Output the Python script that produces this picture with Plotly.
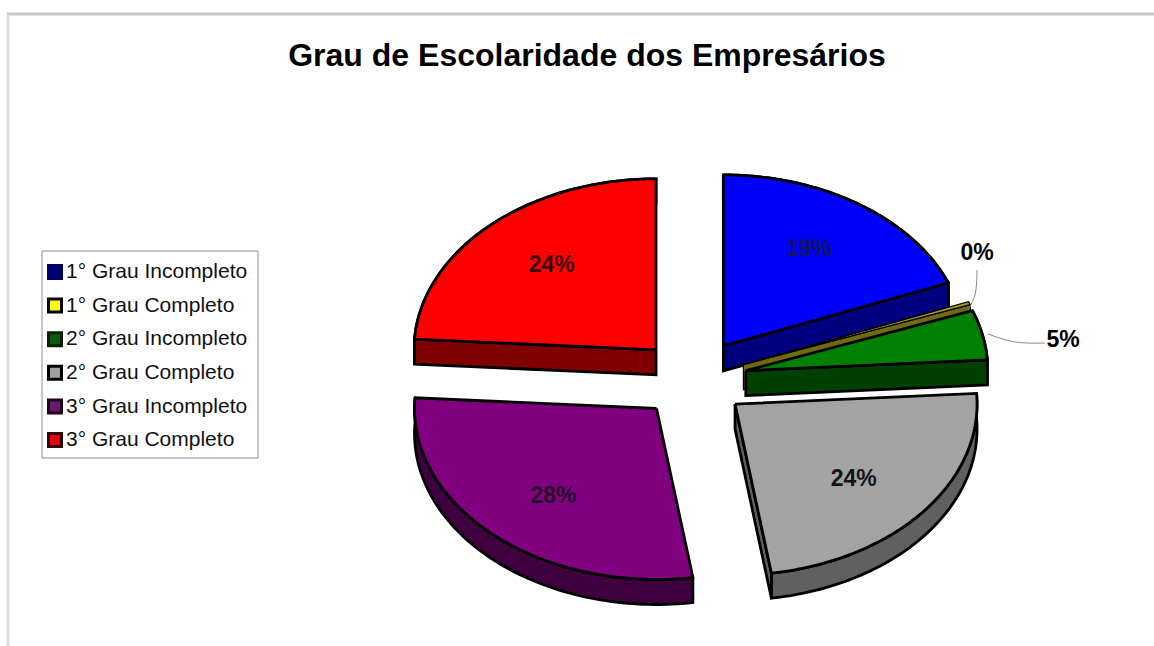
import numpy as np
import plotly.graph_objects as go

# ---- data ----
categories = ["1° Grau Incompleto", "1° Grau Completo", "2° Grau Incompleto",
              "2° Grau Completo", "3° Grau Incompleto", "3° Grau Completo"]
values = [19.0, 0.3, 4.7, 23.6, 28.4, 24.0]
title_text = "Grau de Escolaridade dos Empresários"

# ---- styles ----
top_colors = ["#0000FF", "#A89A20", "#008000", "#A3A3A3", "#800080", "#FF0000"]
wall_colors = ["#000080", "#6E6A10", "#004000", "#606060", "#400040", "#800000"]
legend_fill = ["#000070", "#FFFF00", "#0A5A0A", "#A0A0A0", "#6A1A6A", "#E00010"]
legend_line = ["#000070", "#000000", "#0A200A", "#000000", "#200020", "#300000"]
label_colors = ["#14145A", "#000000", "#000000", "#141414", "#2A0A2A", "#3A0505"]

# ---- geometry of the tilted pie, in plot units ----
CX, CY = 693, 379
RX, RY = 242, 171
EX, EY = 54, 40
DEPTH = 25
OUTLINE = "#000000"

fig = go.Figure()


def arc(t0, t1):
    t = np.linspace(t0, t1, 80)
    return RX * np.sin(t), -RY * np.cos(t)


def poly(xs, ys, fill, name, width=2.8):
    fig.add_trace(go.Scatter(x=xs, y=ys, mode="lines", fill="toself", fillcolor=fill,
                             line=dict(color=OUTLINE, width=width, simplify=False),
                             name=name, showlegend=False, hoverinfo="name"))


total = sum(values)
edges = np.concatenate([[0], np.cumsum(values)]) / total * 2 * np.pi
draw_order = [0, 1, 2, 5, 3, 4]
label_x, label_y, label_text, label_col = [], [], [], []

for i in draw_order:
    t0, t1 = edges[i], edges[i + 1]
    mid = (t0 + t1) / 2
    ax = CX + EX * np.sin(mid)
    ay = CY - EY * np.cos(mid)
    ox, oy = arc(t0, t1)
    ox, oy = ax + ox, ay + oy
    mx, my = ox[40], oy[40]
    lw = 1.2 if i == 1 else 2.8
    # outer wall
    poly(np.r_[ox, ox[::-1], ox[0]], np.r_[oy, oy[::-1] + DEPTH, oy[0]], wall_colors[i], categories[i], lw)
    # radial walls, only where the slice lies above the edge on screen (face turned to the viewer)
    for ex, ey in ((ox[0], oy[0]), (ox[-1], oy[-1])):
        if abs(ex - ax) > 1:
            line_y = ay + (ey - ay) * (mx - ax) / (ex - ax)
            if my < line_y:
                poly([ax, ex, ex, ax, ax], [ay, ey, ey + DEPTH, ay + DEPTH, ay],
                     wall_colors[i], categories[i], lw)
    # top face
    poly(np.r_[ax, ox, ax], np.r_[ay, oy, ay], top_colors[i], categories[i], lw)
    if values[i] >= 10:
        label_x.append(ax + 0.63 * RX * np.sin(mid))
        label_y.append(ay - 0.69 * RY * np.cos(mid) + 2)
        label_text.append(f"{round(values[i])}%")
        label_col.append(label_colors[i])

# inside percentage labels
fig.add_trace(go.Scatter(x=label_x, y=label_y, mode="text", text=label_text, showlegend=False,
                         textfont=dict(family="Liberation Sans", size=23, color=label_col, weight="bold"),
                         hoverinfo="skip"))

# outside labels with leader lines
outside = [(1, 977, 254, [968, 975, 977], [310, 295, 270]),
           (2, 1063, 341, [988, 1015, 1045], [334, 342, 343])]
for i, lx, ly, lxs, lys in outside:
    fig.add_trace(go.Scatter(x=lxs, y=lys, mode="lines", showlegend=False, hoverinfo="skip",
                             line=dict(color="#8A8A8A", width=1, shape="spline")))
    fig.add_trace(go.Scatter(x=[lx], y=[ly], mode="text", text=[f"{round(values[i])}%"], showlegend=False,
                             textfont=dict(family="Liberation Sans", size=23, color="#000000", weight="bold"),
                             hoverinfo="skip"))

# legend
LEG_X, LEG_TX, LEG_Y0, LEG_DY = 55, 66, 272, 33.6
leg_y = [LEG_Y0 + k * LEG_DY for k in range(len(categories))]
fig.add_trace(go.Scatter(
    x=[LEG_X] * len(categories), y=leg_y, mode="markers",
    marker=dict(symbol="square", size=13, color=legend_fill, line=dict(color=legend_line, width=3)),
    showlegend=False, hoverinfo="skip"))
fig.add_trace(go.Scatter(
    x=[LEG_TX] * len(categories), y=[v + 1 for v in leg_y], mode="text", text=categories,
    textposition="middle right",
    textfont=dict(family="Liberation Sans", size=21, color="#111111"),
    showlegend=False, hoverinfo="skip"))

fig.update_layout(
    width=1154, height=646, margin=dict(l=0, r=0, t=0, b=0),
    paper_bgcolor="white", plot_bgcolor="white", showlegend=False,
    xaxis=dict(range=[0, 1154], visible=False, fixedrange=True),
    yaxis=dict(range=[646, 0], visible=False, fixedrange=True),
    title=dict(text=title_text, x=587 / 1154, y=1 - 55 / 646, xanchor="center", yanchor="middle",
               font=dict(family="Liberation Sans", size=32, color="#000000", weight="bold")),
    shapes=[
        dict(type="rect", x0=42, x1=258, y0=251, y1=458, line=dict(color="#8C8C8C", width=1), layer="below"),
        dict(type="line", x0=7, x1=1154, y0=14, y1=14, line=dict(color="#C8C8C8", width=3), layer="below"),
        dict(type="line", x0=8, x1=8, y0=14, y1=646, line=dict(color="#DCDCDC", width=3), layer="below"),
    ],
)

fig.write_html("out.html", config={"displayModeBar": False},
               post_script="document.body.style.margin='0';document.body.style.overflow='hidden';")
